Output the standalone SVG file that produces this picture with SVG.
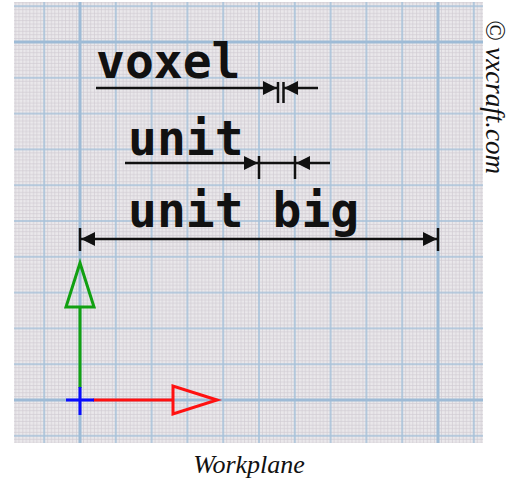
<svg xmlns="http://www.w3.org/2000/svg" width="509" height="482" viewBox="0 0 509 482">
  <style>
    .label { font-family: "DejaVu Sans Mono", "Liberation Mono", monospace; font-weight: bold; font-size: 48px; fill: #111; }
    .caption { font-family: "Liberation Serif", "Times New Roman", serif; font-style: italic; fill: #111; }
    .dim { stroke: #111; stroke-width: 2.5; fill: none; }
    .tick { stroke: #111; stroke-width: 2.5; }
    .minor { fill: #d0cbd2; }
    .major { stroke: #a6c1d9; stroke-width: 1.6; }
    .heavy { stroke: #9ebbd6; stroke-width: 3; }
    .axis { stroke-width: 3; fill: none; stroke-linejoin: miter; }
  </style>
  <defs>
    <!-- one 35.8px graph-paper cell: 10 fine rulings each way, centred on a blue major line -->
    <pattern id="cell" patternUnits="userSpaceOnUse" x="62.1" y="382.1" width="35.8" height="35.8">
      <rect class="minor" x="-0.35" y="0" width="0.7" height="35.8"/>
      <rect class="minor" x="3.23" y="0" width="0.7" height="35.8"/>
      <rect class="minor" x="6.81" y="0" width="0.7" height="35.8"/>
      <rect class="minor" x="10.39" y="0" width="0.7" height="35.8"/>
      <rect class="minor" x="13.97" y="0" width="0.7" height="35.8"/>
      <rect class="minor" x="21.13" y="0" width="0.7" height="35.8"/>
      <rect class="minor" x="24.71" y="0" width="0.7" height="35.8"/>
      <rect class="minor" x="28.29" y="0" width="0.7" height="35.8"/>
      <rect class="minor" x="31.87" y="0" width="0.7" height="35.8"/>
      <rect class="minor" x="35.45" y="0" width="0.7" height="35.8"/>
      <rect class="minor" y="-0.35" x="0" height="0.7" width="35.8"/>
      <rect class="minor" y="3.23" x="0" height="0.7" width="35.8"/>
      <rect class="minor" y="6.81" x="0" height="0.7" width="35.8"/>
      <rect class="minor" y="10.39" x="0" height="0.7" width="35.8"/>
      <rect class="minor" y="13.97" x="0" height="0.7" width="35.8"/>
      <rect class="minor" y="21.13" x="0" height="0.7" width="35.8"/>
      <rect class="minor" y="24.71" x="0" height="0.7" width="35.8"/>
      <rect class="minor" y="28.29" x="0" height="0.7" width="35.8"/>
      <rect class="minor" y="31.87" x="0" height="0.7" width="35.8"/>
      <rect class="minor" y="35.45" x="0" height="0.7" width="35.8"/>
      <line class="major" x1="17.9" y1="0" x2="17.9" y2="35.8"/>
      <line class="major" x1="0" y1="17.9" x2="35.8" y2="17.9"/>
    </pattern>
    <clipPath id="sheet">
      <rect x="14" y="2" width="469" height="441"/>
    </clipPath>
    <marker id="arrow" markerUnits="userSpaceOnUse" markerWidth="14" markerHeight="14" refX="12" refY="6" orient="auto" viewBox="0 0 12 12">
      <path d="M0,0 L12,6 L0,12 Z" fill="#111"/>
    </marker>
  </defs>

  <rect width="509" height="482" fill="#ffffff"/>

  <!-- graph paper -->
  <g id="grid" clip-path="url(#sheet)">
    <rect x="14" y="2" width="469" height="441" fill="#eae8eb"/>
    <rect x="14" y="2" width="469" height="441" fill="url(#cell)"/>
    <line class="heavy" x1="80" y1="0" x2="80" y2="445"/>
    <line class="heavy" x1="438" y1="0" x2="438" y2="445"/>
    <line class="heavy" x1="10" y1="42" x2="485" y2="42"/>
    <line class="heavy" x1="10" y1="400" x2="485" y2="400"/>
  </g>

  <!-- labels -->
  <g id="voxel-label"><text class="label" x="96" y="78">voxel</text></g>
  <g id="unit-label"><text class="label" x="128" y="155">unit</text></g>
  <g id="unit-big-label"><text class="label" x="128" y="227">unit big</text></g>

  <!-- dimension lines -->
  <g id="connectors">
    <!-- voxel -->
    <line class="dim" x1="96" y1="88" x2="277" y2="88" marker-end="url(#arrow)"/>
    <line class="dim" x1="318" y1="88" x2="284" y2="88" marker-end="url(#arrow)"/>
    <line class="tick" x1="278" y1="82" x2="278" y2="103"/>
    <line class="tick" x1="283.5" y1="82" x2="283.5" y2="103"/>
    <!-- unit -->
    <line class="dim" x1="125" y1="163" x2="258" y2="163" marker-end="url(#arrow)"/>
    <line class="dim" x1="330" y1="163" x2="296" y2="163" marker-end="url(#arrow)"/>
    <line class="dim" x1="259" y1="163" x2="295" y2="163"/>
    <line class="tick" x1="259" y1="156" x2="259" y2="179"/>
    <line class="tick" x1="295" y1="156" x2="295" y2="179"/>
    <!-- unit big -->
    <line class="dim" x1="259" y1="239" x2="81" y2="239" marker-end="url(#arrow)"/>
    <line class="dim" x1="259" y1="239" x2="437" y2="239" marker-end="url(#arrow)"/>
    <line class="tick" x1="80" y1="228" x2="80" y2="251"/>
    <line class="tick" x1="438" y1="228" x2="438" y2="251"/>
  </g>

  <!-- workplane axes -->
  <g id="y-axis">
    <line class="axis" stroke="#12a012" x1="80" y1="388" x2="80" y2="307"/>
    <path class="axis" stroke="#12a012" d="M80,263 L66,307 L94,307 Z"/>
  </g>
  <g id="x-axis">
    <line class="axis" stroke="#ff1010" x1="93" y1="400" x2="174" y2="400"/>
    <path class="axis" stroke="#ff1010" d="M217,400 L173,386 L173,414 Z"/>
  </g>
  <g id="origin">
    <line class="axis" stroke="#0a0aff" x1="66" y1="400" x2="94" y2="400"/>
    <line class="axis" stroke="#0a0aff" x1="80" y1="387" x2="80" y2="415"/>
  </g>

  <!-- captions -->
  <g id="caption"><text class="caption" x="249" y="473" font-size="26" text-anchor="middle">Workplane</text></g>
  <g id="credit"><text class="caption" font-size="27" transform="translate(486,20) rotate(90)">© vxcraft.com</text></g>
</svg>
